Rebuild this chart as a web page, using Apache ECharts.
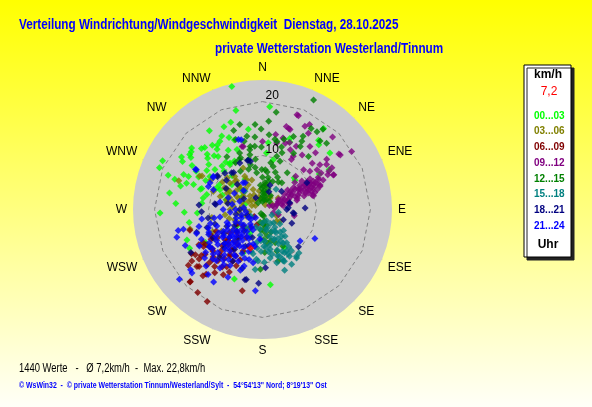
<!DOCTYPE html>
<html>
<head>
<meta charset="utf-8">
<script src="https://cdn.jsdelivr.net/npm/echarts@6/dist/echarts.min.js"></script>
<style>
  html, body { margin: 0; padding: 0; }
  #chart { width: 592px; height: 407px; }
</style>
</head>
<body>
<div id="chart"></div>
<script>
// compass labels, every 22.5 degrees
const directions = ['N', 'NNE', 'NE', 'ENE', 'E', 'ESE', 'SE', 'SSE', 'S', 'SSW', 'SW', 'WSW', 'W', 'WNW', 'NW', 'NNW'];
const ringLevels = [10, 20];
const speedMax = 24;

const timeSlots = ['00...03', '03...06', '06...09', '09...12', '12...15', '15...18', '18...21', '21...24'];
const slotColors = ['#00FF00', '#808000', '#800000', '#800080', '#008000', '#008080', '#000080', '#0000FF'];

// [speed km/h, direction deg]
const s00 = [[23.5,346],[19.0,345],[17.2,340],[17.6,326],[15.6,331],[15.1,350],[14.9,328],[15.1,322],[17.4,311],[17.0,309],
  [16.0,315],[14.0,323],[12.7,330],[20.6,296],[20.6,292],[17.9,303],[17.3,301],[13.9,313],[12.8,320],[15.4,302],[13.0,310],
  [11.1,322],[11.5,310],[15.0,294],[13.3,297],[11.5,302],[17.2,289],[17.5,280],[16.1,274],[13.6,290],[11.9,289],[10.7,285],
  [12.1,337],[9.6,344],[13.5,22],[8.3,45],[16.3,50],[14.4,59],[15.9,41],[19.1,4],[18.8,37],[16.5,39],[14.1,21],[12.4,5],
  [12.4,58],[8.1,48],[9.4,12],[19.0,268],[14.5,268],[12.1,267],[13.8,260],[15.3,242],[13.9,202],[14.0,174],[7.0,285],
  [5.6,312],[8.7,295],[3.4,286],[7.3,309],[8.2,150],[12.2,240],[4.9,208],[14.9,289],[12.1,288],[11.2,281],[10.5,325],
  [9.4,295],[5.7,237],[8.8,204],[15.1,248],[10.5,4],[6.5,330],[4.5,300],[9.2,300],[10.1,315],[11.8,297],[12.6,305],
  [13.4,318],[14.2,300],[16.4,306],[15.8,286],[18.6,290],[10.4,330],[13.9,338],[16.9,335],[8.4,318],[7.9,290],[11.3,276],
  [14.7,335],[16.9,307],[15.7,317],[14.6,325],[11.0,317],[10.3,324],[16.0,294],[14.5,315]];
const s03 = [[16.4,289],[13.2,298],[7.2,318],[8.5,335],[7.0,332],[2.8,29],[4.6,6],[3.6,54],[7.3,316],[4.7,311],[5.4,297],
  [3.0,300],[4.1,335],[5.4,276],[9.7,290],[12.8,299],[7.8,309],[6.3,332],[8.2,287],[3.2,247],[9.5,261],[8.6,242],[3.9,124],
  [2.9,115],[3.4,317],[10.4,238],[13.9,255],[10.1,246],[2.6,33],[3.4,130],[6.7,281],[10.9,245],[1.5,300],[2.2,320],
  [4.0,290],[5.0,320],[6.0,305],[6.5,290],[5.8,340],[3.5,350],[2.5,260],[4.5,265],[6.0,270],[7.5,300],[9.0,305],[8.0,320],
  [4.8,225],[6.8,235],[1.0,30],[2.0,60],[2.0,350],[11.0,300],[7.0,262],[5.5,250],[6.9,299],[5.8,314],[2.1,290],[2.7,310],
  [3.1,330],[3.8,280],[4.3,305],[4.9,295],[5.3,330],[5.7,285],[6.2,315],[6.9,285],[7.2,295],[8.1,300],[8.8,312],[3.3,270],
  [4.1,255],[5.1,240],[6.4,255],[2.4,345],[1.8,20],[3.0,10]];
const s06 = [[19.0,225],[19.5,218],[19.9,211],[15.5,194],[17.2,233],[16.1,229],[14.2,233],[15.5,238],[15.9,221],[14.7,217],
  [14.1,211],[13.6,225],[12.9,238],[11.5,223],[9.1,224],[11.5,205],[10.2,204],[7.3,201],[14.0,254],[13.5,241],[16.2,234],
  [18.9,225],[12.6,221],[8.9,231],[9.2,216],[4.7,229],[6.4,228],[12.0,230],[13.0,215],[10.5,215],[11.0,240],[10.0,228],
  [8.0,215],[7.5,235],[9.5,245],[12.5,212],[14.5,225],[6.0,210],[5.5,240],[3.0,200],[4.0,215],[8.5,205],[11.5,218],
  [13.5,232],[9.8,238],[16.5,222],[2.0,230],[15.0,236],[12.6,241],[10.3,216],[10.9,225],[11.8,232],[12.7,226],[13.8,220],
  [14.9,232],[9.4,218],[8.6,228],[7.8,221],[12.3,238],[10.6,242],[15.8,228],[13.1,208],[11.1,210],[6.8,222],[9.9,210]];
const s09 = [[18.6,21],[15.8,18],[14.1,10],[16.5,31],[14.6,37],[18.7,44],[19.7,57],[17.6,55],[15.1,52],[14.5,55],[14.7,64],
  [14.4,43],[13.5,52],[12.5,36],[11.3,51],[13.3,28],[13.8,16],[13.4,22],[17.3,27],[14.2,60],[13.7,62],[9.1,60],[10.8,61],
  [11.6,67],[9.0,70],[7.6,61],[6.5,68],[5.1,69],[3.7,75],[2.3,82],[7.0,55],[10.0,66],[9.0,54],[12.6,47],[11.4,30],[18.7,20],
  [17.5,54],[14.6,64],[15.0,59],[10.2,72],[12.6,12],[12.6,0],[12.2,25],[12.2,343],[15.7,19],[16.0,16],[18.0,29],[8.7,45],
  [10.1,61],[11.5,68],[9.6,74],[2.1,107],[5.2,78],[6.0,101],[9.8,75],[8.5,69],[3.1,108],[4.9,76],[12.3,342],[8.0,63],
  [8.5,65],[9.5,63],[10.5,64],[11.0,63],[7.5,66],[6.0,63],[5.5,60],[4.5,65],[4.0,70],[3.0,68],[6.8,72],[7.2,58],[9.8,58],
  [10.5,57],[11.8,62],[12.5,64],[8.2,57],[9.3,67],[10.8,70],[6.2,57],[5.0,55],[3.5,58],[2.8,72],[13.0,19],[10.7,30],
  [10.6,46],[12.5,54],[2.0,70],[3.3,63],[4.2,61],[4.8,72],[5.6,66],[6.4,60],[7.1,68],[7.9,61],[8.8,60],[9.2,65],[9.9,61],
  [10.3,67],[11.2,65],[11.9,60],[12.8,58],[6.6,75],[8.1,72],[9.7,70],[5.9,52],[7.8,50],[3.9,80],[1.5,60]];
const s12 = [[22.4,25],[18.2,8],[16.4,4],[14.9,359],[15.6,340],[13.9,5],[13.2,10],[13.5,354],[13.9,339],[13.1,345],[11.3,348],
  [10.4,337],[9.4,352],[7.4,359],[8.2,14],[12.1,17],[14.7,23],[15.5,29],[17.5,31],[17.6,35],[18.6,37],[16.6,40],[17.1,44],
  [13.0,41],[14.6,30],[13.6,31],[13.6,17],[10.2,15],[7.4,4],[6.0,10],[4.3,2],[11.8,326],[10.2,335],[8.6,345],[6.9,351],
  [8.8,10],[7.3,19],[6.1,36],[3.1,1],[1.5,328],[2.0,23],[11.9,349],[11.6,359],[9.5,20],[8.2,34],[11.1,19],[11.9,29],
  [12.9,12],[8.0,177],[6.6,159],[11.1,182],[10.0,163],[8.2,161],[7.8,151],[1.5,0],[2.5,10],[3.5,5],[2.0,350],[1.0,180],
  [2.2,170],[3.0,165],[4.0,15],[5.0,5],[5.5,20],[3.0,30],[4.5,355],[6.0,0],[2.0,40],[1.2,170],[0.8,200],[2.8,178],
  [3.5,172],[5.0,170],[6.0,165],[4.5,160],[1.8,10],[2.6,2],[3.2,12],[3.9,358],[4.6,8],[5.4,12],[5.9,30],[6.6,25],[7.0,7],
  [7.9,350],[2.4,190],[3.8,185],[4.2,175],[5.6,178],[6.3,172],[16.3,345],[15.8,355],[13.9,348],[11.8,353],[11.3,338],
  [10.4,347],[10.0,330],[8.2,330],[7.9,341]];
const s15 = [[7.6,144],[9.0,153],[11.0,145],[6.1,144],[10.3,158],[11.2,187],[8.0,195],[5.9,176],[4.4,157],[7.5,169],
  [10.4,157],[9.6,185],[9.1,171],[4.5,34],[4.7,316],[5.0,150],[6.0,160],[7.0,155],[8.0,160],[9.5,150],[8.5,145],[6.5,140],
  [5.5,135],[4.0,145],[3.5,165],[7.0,175],[8.5,168],[10.0,150],[11.5,152],[9.0,162],[6.8,150],[5.2,165],[3.0,150],
  [2.5,180],[4.8,185],[6.2,190],[7.8,182],[9.8,178],[2.0,120],[3.0,100],[12.0,160],[10.5,140],[6.8,178],[9.3,187],
  [9.2,160],[10.7,144],[3.5,200],[4.5,220],[2.5,240],[5.5,205],[2.2,160],[3.2,140],[3.9,170],[4.6,150],[5.3,142],
  [5.9,158],[6.7,168],[7.3,148],[7.9,172],[8.6,155],[9.3,145],[10.2,165],[4.2,130],[5.8,183],[7.2,188],[8.4,192],
  [3.6,188],[6.1,152],[8.9,150],[9.9,158]];
const s18 = [[10.5,307],[8.6,309],[9.5,343],[9.5,344],[4.7,17],[10.3,306],[11.8,274],[8.7,276],[4.9,46],[5.2,76],[4.5,90],
  [5.9,97],[4.3,116],[9.6,136],[10.8,177],[13.4,194],[13.7,183],[10.2,261],[8.9,277],[10.8,252],[13.3,193],[11.5,199],
  [15.5,239],[9.2,253],[11.3,268],[9.6,334],[9.2,346],[8.7,322],[12.9,251],[5.7,96],[9.7,314],[8.9,320],[9.6,59],[4.8,86],
  [7.9,88],[6.0,240],[7.0,220],[8.0,230],[5.0,260],[6.5,280],[4.0,300],[3.0,250],[9.0,215],[10.0,225],[12.0,235],[7.5,205],
  [11.0,210],[5.5,200],[2.5,330],[3.5,20],[6.0,115],[6.2,230],[7.3,245],[8.4,238],[9.4,228],[10.6,240],[5.2,220],
  [4.2,270],[7.8,300],[6.6,315],[11.9,222]];
const s21 = [[16.1,256],[15.1,256],[16.7,252],[15.8,245],[17.4,230],[17.6,228],[20.1,230],[16.2,214],[15.1,185],[11.4,261],
  [10.6,251],[15.7,220],[14.1,207],[11.1,119],[9.1,130],[9.6,195],[14.5,301],[10.9,293],[13.7,341],[13.5,343],[10.9,303],
  [5.9,327],[14.3,301],[10.9,297],[9.8,292],[5.0,215],[6.0,220],[7.0,225],[8.0,230],[9.0,235],[10.0,240],[11.0,245],
  [12.0,235],[13.0,225],[12.5,215],[11.0,220],[10.0,210],[9.0,205],[8.0,212],[7.0,200],[6.5,235],[5.5,245],[4.5,230],
  [3.5,220],[6.0,205],[7.5,240],[8.5,222],[9.5,228],[10.5,232],[11.5,226],[12.0,210],[13.5,240],[14.0,230],[9.0,250],
  [10.0,255],[8.0,260],[7.0,250],[6.0,265],[5.0,270],[4.0,255],[3.0,240],[2.0,220],[8.5,217],[9.8,218],[11.8,232],
  [7.8,207],[6.8,213],[12.8,222],[14.8,225],[3.5,275],[4.5,290],[6.0,300],[5.0,315],[8.0,280],[13.0,250],[11.0,198],
  [12.0,200],[10.0,190],[7.0,192],[5.5,185],[11.0,304],[6.1,324],[6.7,289],[4.2,205],[5.3,226],[6.4,218],[7.2,233],
  [8.3,241],[9.4,222],[10.3,236],[11.2,214],[12.3,228],[13.2,233],[6.9,246],[7.7,216],[8.9,226],[9.9,212],[10.8,247],
  [5.8,210],[4.8,238],[3.8,212],[2.8,230],[7.4,228],[8.7,236],[9.2,242],[11.6,238],[12.6,244],[6.2,228],[5.1,252],
  [7.9,222],[10.6,205],[11.9,218],[9.6,200],[8.2,198],[6.6,195],[13.4,216],[12.2,255],[9.1,260],[7.3,270],[5.7,280],
  [4.2,248],[3.1,262],[10.1,223]];
const slotData = [s00, s03, s06, s09, s12, s15, s18, s21];

// red marker: mean vector
const meanPoint = [[7.5, 197]];
const meanLabel = '7,2';

const titleText = 'Verteilung Windrichtung/Windgeschwindigkeit  Dienstag, 28.10.2025';
const subtitleText = 'private Wetterstation Westerland/Tinnum';
const statsText = '1440 Werte   -   Ø 7,2km/h  -  Max. 22,8km/h';
const footerText = '© WsWin32  -  © private Wetterstation Tinnum/Westerland/Sylt  -  54°54\'13" Nord; 8°19\'13" Ost';

const chart = echarts.init(document.getElementById('chart'));

// narrow windows-like lettering: squeeze Arial horizontally
function label(text, x, y, font, color, squeeze) {
  return {
    type: 'text', x: x, y: y, scaleX: squeeze, z: 10,
    style: { text: text, font: font, fill: color, align: 'left', verticalAlign: 'middle' }
  };
}

// dashed 16-gon rings
const ringSeries = ringLevels.map(level => ({
  type: 'line',
  coordinateSystem: 'polar',
  silent: true,
  symbol: 'none',
  z: 1,
  lineStyle: { color: '#808080', width: 1, type: [4, 3] },
  data: directions.concat(['N']).map((d, i) => [level, i * 22.5])
}));

const scatterSeries = timeSlots.map((name, i) => ({
  name: name,
  type: 'scatter',
  coordinateSystem: 'polar',
  symbol: 'diamond',
  symbolSize: 7,
  z: 2,
  itemStyle: { color: slotColors[i] },
  data: slotData[i]
}));

const option = {
  animation: false,
  backgroundColor: {
    type: 'linear', x: 0, y: 0, x2: 0, y2: 1,
    colorStops: [{ offset: 0, color: '#FFFF00' }, { offset: 1, color: '#FFFFF8' }]
  },
  legend: {
    orient: 'vertical',
    left: 529,
    top: 110,
    itemWidth: 0,
    itemHeight: 12,
    itemGap: 3.7,
    padding: 0,
    selectedMode: false,
    icon: 'rect',
    data: timeSlots.map((name, i) => ({
      name: name,
      textStyle: { color: slotColors[i], fontSize: 10, fontWeight: 'bold', fontFamily: 'Arial' }
    }))
  },
  graphic: [
    label(titleText, 19, 25, 'bold 14px Arial', '#0000FF', 0.837),
    label(subtitleText, 215, 49, 'bold 14px Arial', '#0000FF', 0.838),
    label(statsText, 19, 369, '12px Arial', '#000000', 0.785),
    label(footerText, 19, 386, 'bold 9px Arial', '#0000FF', 0.77),
    { type: 'rect', shape: { x: 524, y: 65, width: 47, height: 192 },
      style: { fill: '#FFFFFF', stroke: '#000000', lineWidth: 1,
        shadowColor: '#222222', shadowOffsetX: 3, shadowOffsetY: 3, shadowBlur: 0 }, z: -1 },
    { type: 'text', x: 548, y: 75,
      style: { text: 'km/h', fill: '#000', font: 'bold 12px Arial', align: 'center', verticalAlign: 'middle' } },
    { type: 'text', x: 549, y: 92,
      style: { text: meanLabel, fill: '#FF0000', font: '12px Arial', align: 'center', verticalAlign: 'middle' } },
    { type: 'text', x: 548, y: 245,
      style: { text: 'Uhr', fill: '#000', font: 'bold 12px Arial', align: 'center', verticalAlign: 'middle' } }
  ],
  polar: { center: [262.5, 209.5], radius: 129.5 },
  angleAxis: {
    type: 'value',
    min: 0,
    max: 360,
    interval: 22.5,
    startAngle: 90,
    clockwise: true,
    axisLine: { show: false },
    axisTick: { show: false },
    axisLabel: {
      margin: 6,
      color: '#000',
      fontSize: 12,
      fontFamily: 'Arial',
      formatter: v => directions[Math.round(v / 22.5) % 16]
    },
    splitLine: { show: true, lineStyle: { color: '#808080', width: 1, type: [4, 3] } },
    splitArea: { show: true, areaStyle: { color: ['#CCCCCC'] } }
  },
  radiusAxis: {
    min: 0,
    max: speedMax,
    interval: 10,
    axisLine: { show: false },
    axisTick: { show: false },
    splitLine: { show: false },
    axisLabel: {
      color: '#000',
      fontSize: 12,
      fontFamily: 'Arial',
      margin: -3,
      align: 'left',
      verticalAlign: 'bottom',
      formatter: v => (ringLevels.indexOf(v) >= 0 ? String(v) : '')
    },
    z: 5
  },
  series: ringSeries.concat(scatterSeries).concat([{
    name: 'Mittel',
    type: 'scatter',
    coordinateSystem: 'polar',
    symbol: 'diamond',
    symbolSize: 7,
    z: 3,
    itemStyle: { color: '#FF0000' },
    data: meanPoint
  }])
};

chart.setOption(option);
</script>
</body>
</html>
